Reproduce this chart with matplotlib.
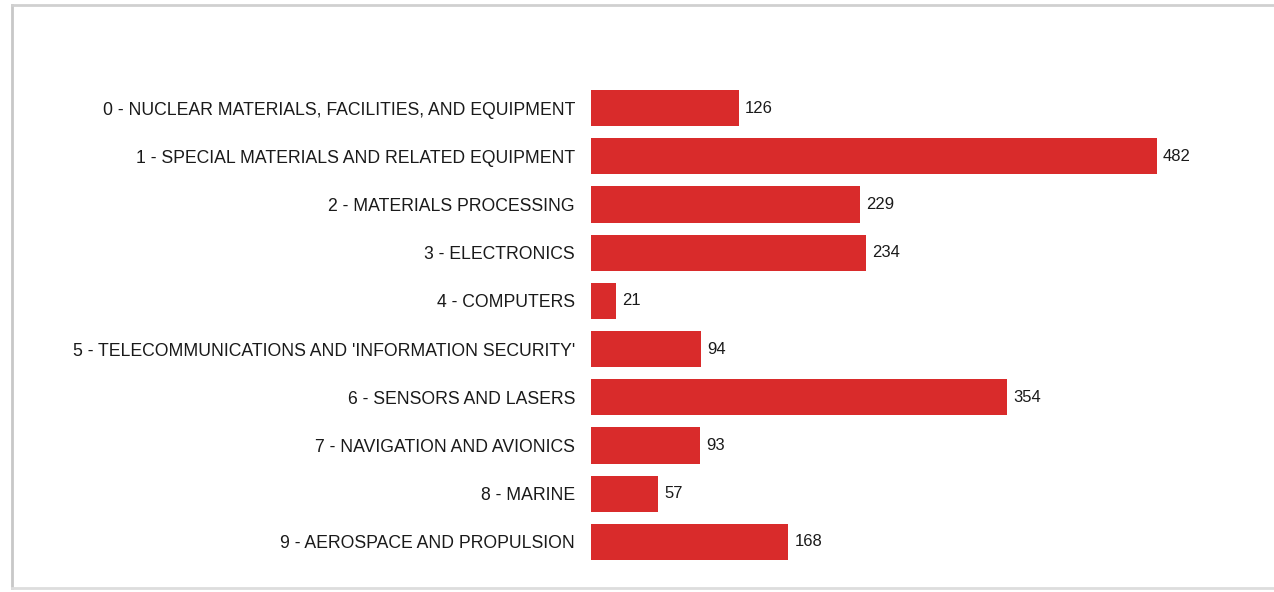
import matplotlib.pyplot as plt
from matplotlib.lines import Line2D

categories = [
    "0 - NUCLEAR MATERIALS, FACILITIES, AND EQUIPMENT",
    "1 - SPECIAL MATERIALS AND RELATED EQUIPMENT",
    "2 - MATERIALS PROCESSING",
    "3 - ELECTRONICS",
    "4 - COMPUTERS",
    "5 - TELECOMMUNICATIONS AND 'INFORMATION SECURITY'",
    "6 - SENSORS AND LASERS",
    "7 - NAVIGATION AND AVIONICS",
    "8 - MARINE",
    "9 - AEROSPACE AND PROPULSION",
]
counts = [126, 482, 229, 234, 21, 94, 354, 93, 57, 168]

plt.rcParams['font.family'] = ['Liberation Sans', 'DejaVu Sans']

W, H = 1274, 592
fig = plt.figure(figsize=(W / 100, H / 100), dpi=100)
fig.patch.set_facecolor('white')

# axes placed so bars start at x=591 px and rows span y=84..566 px
ax_left, ax_right = 591, 1230
ax_top, ax_bottom = 84, 566
ax = fig.add_axes([ax_left / W, (H - ax_bottom) / H,
                   (ax_right - ax_left) / W, (ax_bottom - ax_top) / H])

y = list(range(len(categories)))
ax.barh(y, counts, height=0.75, color='#d92b2b', edgecolor='none')
ax.set_xlim(0, (ax_right - ax_left) / 1.174)
ax.set_ylim(len(categories) - 0.5, -0.5)

ax.set_yticks(y)
ax.set_yticklabels(categories, fontsize=12.7, color='#1a1a1a')
ax.tick_params(axis='y', length=0, pad=11.5)
ax.set_xticks([])
for s in ax.spines.values():
    s.set_visible(False)

for yi, v in zip(y, counts):
    ax.annotate(str(v), (v, yi), xytext=(4.5, 0), textcoords='offset points',
                va='center', ha='left', fontsize=12, color='#1a1a1a')

# frame lines of the original screenshot
fig.add_artist(Line2D([12 / W, 12 / W], [(H - 588) / H, (H - 5) / H],
                      color='#c8c8c8', lw=2, transform=fig.transFigure))
fig.add_artist(Line2D([12 / W, 1], [(H - 5) / H, (H - 5) / H],
                      color='#d0d0d0', lw=2, transform=fig.transFigure))
fig.add_artist(Line2D([12 / W, 1], [(H - 588) / H, (H - 588) / H],
                      color='#dddddd', lw=2, transform=fig.transFigure))

fig.savefig('out.png', dpi=100, facecolor='white')
